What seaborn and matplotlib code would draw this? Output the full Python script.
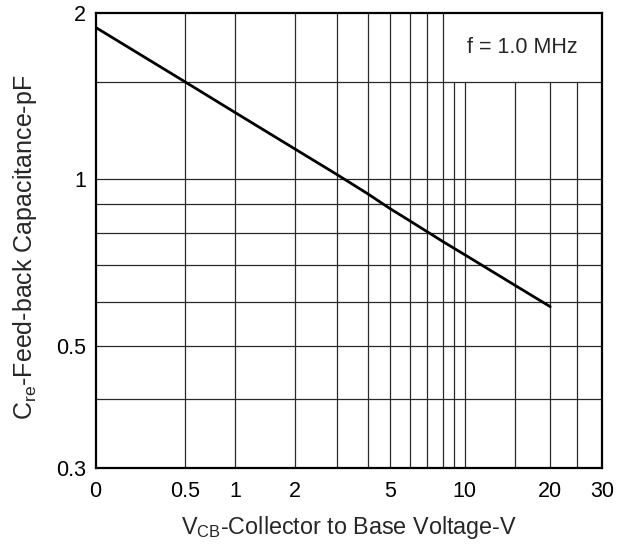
import numpy as np
import pandas as pd
import matplotlib
matplotlib.use('Agg')
import matplotlib.pyplot as plt
import matplotlib.ticker as mticker
import seaborn as sns

# curve
vcb = [0, 0.5, 1, 2, 3, 4, 5, 6, 8, 10, 15, 20]
cre = [1.88, 1.5, 1.32, 1.133, 1.02, 0.94, 0.885, 0.84, 0.77, 0.73, 0.643, 0.588]

x_ticks = [0, 0.5, 1, 2, 5, 10, 20, 30]
x_ticklabels = ['0', '0.5', '1', '2', '5', '10', '20', '30']
y_ticks = [0.3, 0.5, 1, 2]
y_ticklabels = ['0.3', '0.5', '1', '2']

x_grid = [0.5, 1, 2, 3, 4, 5, 6, 7, 8, 9, 10, 15, 20, 25]
y_grid = [0.4, 0.5, 0.6, 0.7, 0.8, 0.9, 1.0, 1.5]

# the hand drawn x axis is not a clean log scale, so map it piecewise
scale_x = [0, 0.5, 1, 2, 3, 4, 5, 6, 7, 8, 9, 10, 15, 20, 25, 30]
scale_f = [0, 0.176, 0.275, 0.394, 0.476, 0.538, 0.581, 0.621, 0.654,
           0.687, 0.708, 0.729, 0.828, 0.898, 0.951, 1.0]


def fwd(v):
    return np.interp(v, scale_x, scale_f)


def inv(v):
    return np.interp(v, scale_f, scale_x)


df = pd.DataFrame({'VCB': vcb, 'Cre': cre})

sns.set_style('white')
plt.rcParams['font.family'] = ['Liberation Sans', 'DejaVu Sans']
plt.rcParams['mathtext.fontset'] = 'custom'
plt.rcParams['mathtext.rm'] = 'Liberation Sans'

fig = plt.figure(figsize=(6.25, 5.44), dpi=100)
ax = fig.add_axes([0.153, 0.139, 0.81, 0.838])

ax.set_xscale('function', functions=(fwd, inv))
ax.set_yscale('log')
ax.set_xlim(0, 30)
ax.set_ylim(0.3, 2)

# grid: lines right of 8 V stop at 1.5 pF to leave room for the label box
for gx in x_grid:
    top = 2 if gx <= 8 else 1.5
    ax.vlines(gx, 0.3, top, color='#2a2a2a', lw=0.9, zorder=1)
for gy in y_grid:
    ax.hlines(gy, 0, 30, color='#2a2a2a', lw=0.9, zorder=1)

sns.lineplot(data=df, x='VCB', y='Cre', ax=ax, color='black', lw=2.0, zorder=3)

ax.text(0.843, 0.924, 'f = 1.0 MHz', transform=ax.transAxes,
        ha='center', va='center', fontsize=15.5)

ax.xaxis.set_major_locator(mticker.FixedLocator(x_ticks))
ax.xaxis.set_minor_locator(mticker.NullLocator())
ax.set_xticklabels(x_ticklabels)
ax.yaxis.set_major_locator(mticker.FixedLocator(y_ticks))
ax.yaxis.set_minor_locator(mticker.NullLocator())
ax.set_yticklabels(y_ticklabels)
ax.tick_params(length=0, labelsize=15.5, colors='black')
ax.tick_params(axis='x', pad=9)
ax.tick_params(axis='y', pad=7)

ax.set_xlabel(r'V$_{\mathregular{CB}}$-Collector to Base Voltage-V', fontsize=16.8)
ax.set_ylabel(r'C$_{\mathregular{re}}$-Feed-back Capacitance-pF', fontsize=18)
ax.xaxis.set_label_coords(0.5, -0.1)
ax.yaxis.set_label_coords(-0.112, 0.485)

for s in ax.spines.values():
    s.set_color('black')
    s.set_linewidth(1.6)

fig.savefig('out.png', dpi=100, facecolor='white')
